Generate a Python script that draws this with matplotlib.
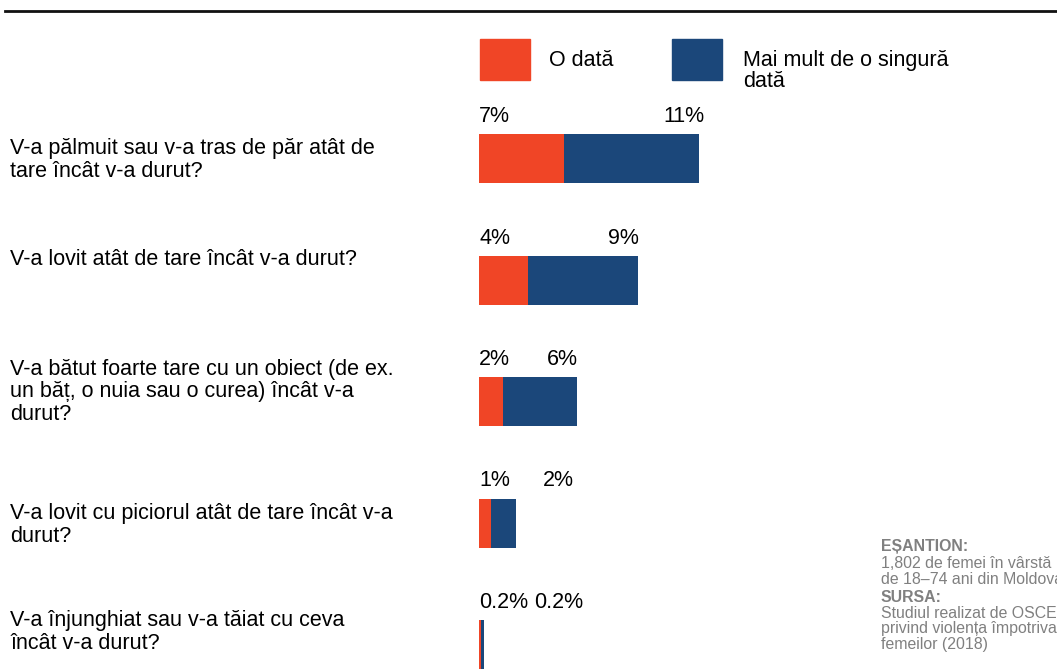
import matplotlib
matplotlib.use("Agg")
import matplotlib.pyplot as plt
from matplotlib.patches import Rectangle
from matplotlib.lines import Line2D

plt.rcParams['font.family'] = ['Liberation Sans', 'DejaVu Sans']

# --- data ---
questions = [
    "V-a pălmuit sau v-a tras de păr atât de\ntare încât v-a durut?",
    "V-a lovit atât de tare încât v-a durut?",
    "V-a bătut foarte tare cu un obiect (de ex.\nun băț, o nuia sau o curea) încât v-a\ndurut?",
    "V-a lovit cu piciorul atât de tare încât v-a\ndurut?",
    "V-a înjunghiat sau v-a tăiat cu ceva\nîncât v-a durut?",
]
once = [7, 4, 2, 1, 0.2]
more = [11, 9, 6, 2, 0.2]
once_labels = ["7%", "4%", "2%", "1%", "0.2%"]
more_labels = ["11%", "9%", "6%", "2%", "0.2%"]
legend_names = ["O dată", "Mai mult de o singură\ndată"]
note_lines = [
    ("EȘANTION:", "bold"),
    ("1,802 de femei în vârstă", "normal"),
    ("de 18–74 ani din Moldova", "normal"),
    ("SURSA:", "bold"),
    ("Studiul realizat de OSCE", "normal"),
    ("privind violența împotriva", "normal"),
    ("femeilor (2018)", "normal"),
]

ORANGE = "#f04526"
BLUE = "#1b477a"
W, H = 1057, 669
FS = 15.5

fig = plt.figure(figsize=(W / 100, H / 100), dpi=100)

# bar axes: starts at x=479px, ~12.2 px per percent, rows spaced 121.5 px
x0 = 479
px_per_pct = 12.2
ax = fig.add_axes([x0 / W, 0, (W - x0) / W, 1])
ax.set_xlim(0, (W - x0) / px_per_pct)
row0, row_gap = 158.5, 121.5
ax.set_ylim((H - row0) / row_gap, -row0 / row_gap)
ax.axis("off")

rows = list(range(len(questions)))
bar_h = 49 / row_gap
ax.barh(rows, once, height=bar_h, color=ORANGE, linewidth=0)
ax.barh(rows, more, left=once, height=bar_h, color=BLUE, linewidth=0)

gap = 7 / row_gap
for i in rows:
    top = i - bar_h / 2 - gap
    total = once[i] + more[i]
    ax.text(0, top, once_labels[i], ha="left", va="bottom", fontsize=FS)
    # blue label sits near the bar end, but never closer than the first label
    ax.text(max(total - 1.2, 6.5), top, more_labels[i], ha="center",
            va="bottom", fontsize=FS)

# question labels on the left
label_y = [160, 259, 392, 525, 632]
for q, yy in zip(questions, label_y):
    fig.text(10 / W, 1 - yy / H, q, ha="left", va="center", fontsize=FS,
             linespacing=1.1)

# legend
for lx, col in zip([480, 672], [ORANGE, BLUE]):
    fig.patches.append(Rectangle((lx / W, 1 - 80 / H), 50 / W, 41 / H,
                                 transform=fig.transFigure, color=col))
fig.text(549 / W, 1 - 60 / H, legend_names[0], ha="left", va="center",
         fontsize=FS)
fig.text(743 / W, 1 - 50 / H, legend_names[1], ha="left", va="top",
         fontsize=FS, linespacing=1.0)

# top rule
fig.add_artist(Line2D([5 / W, 1], [1 - 11 / H, 1 - 11 / H],
                      transform=fig.transFigure, color="#111111", lw=2))

# source note
gray = "#808080"
note_y = [547, 564, 580, 597, 614, 629, 645]
for (txt, wt), yy in zip(note_lines, note_y):
    fig.text(881 / W, 1 - yy / H, txt, ha="left", va="center",
             fontsize=11.4, color=gray, weight=wt)

fig.savefig("out.png", dpi=100)
